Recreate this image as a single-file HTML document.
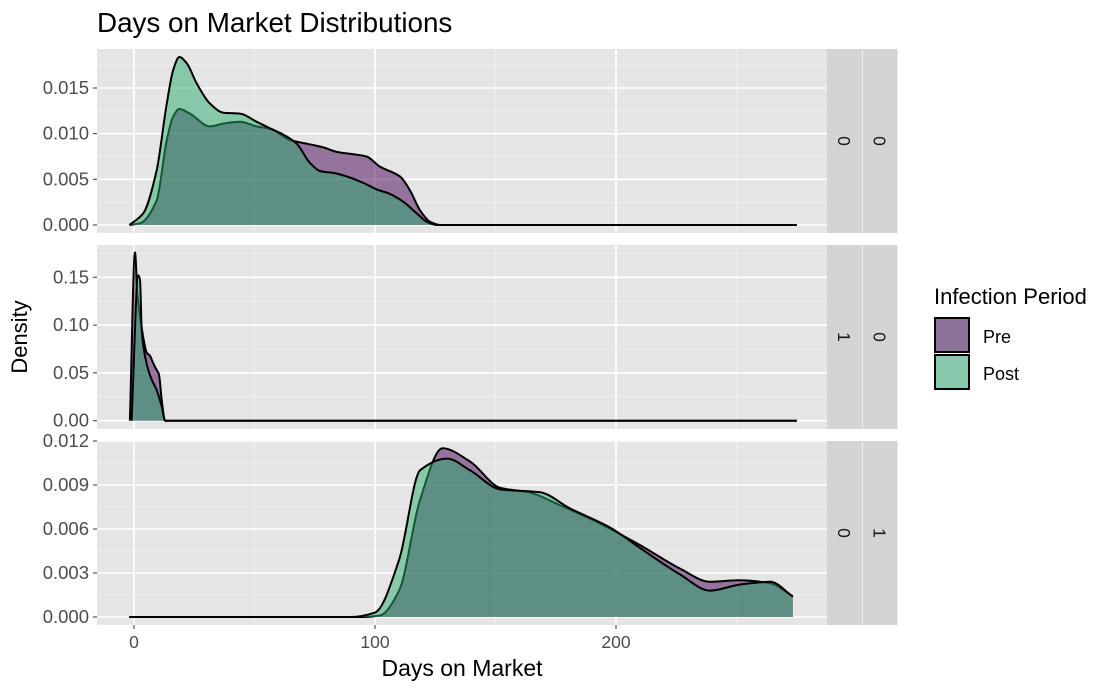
<!DOCTYPE html>
<html><head><meta charset="utf-8"><style>
body{margin:0;background:#fff}
svg text{font-family:"Liberation Sans",Arial,sans-serif}
</style></head><body>
<svg id="chart" width="1120" height="692" xmlns="http://www.w3.org/2000/svg">
<text x="97" y="32" font-size="27.8" fill="#000">Days on Market Distributions</text>
<text transform="translate(27,337) rotate(-90)" font-size="22" text-anchor="middle">Density</text>
<text x="462" y="676" font-size="23" text-anchor="middle">Days on Market</text>
<g>
<text x="934" y="304" font-size="22">Infection Period</text>
<rect x="935" y="318" width="34" height="34" fill="#8c7299" stroke="#000" stroke-width="2"/>
<text x="983" y="343" font-size="18">Pre</text>
<rect x="935" y="355" width="34" height="34" fill="#88c8ac" stroke="#000" stroke-width="2"/>
<text x="983" y="380" font-size="18">Post</text>
</g>
<g id="panels"></g>
</svg>
<script>
const xTicks=[0,100,200];
const strip1=["0","0"], strip2=["1","0"], strip3=["0","1"];
const p1Ticks=[0,0.005,0.010,0.015], p1Labels=["0.000","0.005","0.010","0.015"];
const p2Ticks=[0,0.05,0.10,0.15], p2Labels=["0.00","0.05","0.10","0.15"];
const p3Ticks=[0,0.003,0.006,0.009,0.012], p3Labels=["0.000","0.003","0.006","0.009","0.012"];
const p1PreX=[-1.9,2.5,9.4,13.6,16.3,18.8,23.2,31.5,37.1,44,50.9,57.1,64.7,71.7,78.6,84.1,92.4,96.5,102,110.4,114.5,118.7,122.8,127,140,275];
const p1PreY=[0,0.0002,0.0027,0.0093,0.0119,0.0127,0.0122,0.0108,0.0111,0.0113,0.0108,0.0105,0.0093,0.0089,0.0085,0.008,0.0077,0.0075,0.0064,0.0053,0.0038,0.0016,0.00036,0,0,0];
const p1PostX=[-1.9,3.9,9.4,13.6,16.3,18.8,21.9,26,31.5,37.1,44,50.9,57.1,62,67.5,73,77.2,82.7,89.6,95.2,100.7,106.2,111.7,117.3,121.4,125.6,140,275];
const p1PostY=[0,0.0013,0.006,0.0133,0.017,0.0184,0.0177,0.0155,0.0133,0.0123,0.0122,0.0113,0.0105,0.0099,0.0089,0.0068,0.0059,0.0057,0.0052,0.0046,0.0039,0.0034,0.00255,0.00128,0.00036,0,0,0];
const p2PreX=[-1.7,0.4,1.5,2.5,4,5.3,6.6,8,9.4,10.3,11.5,12.9,20,275];
const p2PreY=[0,0.176,0.13,0.11,0.085,0.071,0.068,0.06,0.053,0.049,0.022,0,0,0];
const p2PostX=[-1,1.8,2.5,3.2,4.6,7,9.4,11.5,12.9,20,275];
const p2PostY=[0,0.152,0.147,0.095,0.067,0.045,0.032,0.015,0,0,0];
const p3PreX=[-2,95,102,110,118.7,128,139.4,152,164,177,193,210,226.6,239,251,264,273.4];
const p3PreY=[0,0,0.0001,0.0018,0.008,0.0115,0.0106,0.0088,0.0085,0.0076,0.0064,0.0049,0.0033,0.0024,0.0025,0.0023,0.0014];
const p3PostX=[-2,90,100,110,118.7,130,139.4,152,168.5,181,197.5,210,226.6,239,251,264,273.4];
const p3PostY=[0,0,0.0003,0.0039,0.01,0.0108,0.01,0.0087,0.0085,0.0074,0.0061,0.0047,0.0029,0.0018,0.0022,0.0024,0.0014];

const NS="http://www.w3.org/2000/svg";
const root=document.getElementById('panels');
const X0=97,X1=827;
const xs=d=>134+d*2.41;
function mk(t,a,p){const e=document.createElementNS(NS,t);for(const k in a)e.setAttribute(k,a[k]);(p||root).appendChild(e);return e;}
const panels=[
 {top:49,bot:233,y0:225,scale:9133,ticks:p1Ticks,labels:p1Labels,step:0.005,max:0.019,strip:strip1,pre:[p1PreX,p1PreY],post:[p1PostX,p1PostY]},
 {top:245,bot:429,y0:420.7,scale:956,ticks:p2Ticks,labels:p2Labels,step:0.05,max:0.19,strip:strip2,pre:[p2PreX,p2PreY],post:[p2PostX,p2PostY]},
 {top:441,bot:625,y0:617,scale:14667,ticks:p3Ticks,labels:p3Labels,step:0.003,max:0.0125,strip:strip3,pre:[p3PreX,p3PreY],post:[p3PostX,p3PostY]}
];
function monoPath(pts){
 const n=pts.length,dx=[],m=[],t=[];
 for(let i=0;i<n-1;i++){dx[i]=pts[i+1][0]-pts[i][0];m[i]=(pts[i+1][1]-pts[i][1])/dx[i];}
 t[0]=m[0];t[n-1]=m[n-2];
 for(let i=1;i<n-1;i++){
  if(m[i-1]*m[i]<=0)t[i]=0;
  else{const w1=2*dx[i]+dx[i-1],w2=dx[i]+2*dx[i-1];t[i]=(w1+w2)/(w1/m[i-1]+w2/m[i]);}
 }
 let d="M"+pts[0][0].toFixed(1)+","+pts[0][1].toFixed(1);
 for(let i=0;i<n-1;i++){
  const h=dx[i]/3;
  d+=` C${(pts[i][0]+h).toFixed(1)},${(pts[i][1]+t[i]*h).toFixed(1)} ${(pts[i+1][0]-h).toFixed(1)},${(pts[i+1][1]-t[i+1]*h).toFixed(1)} ${pts[i+1][0].toFixed(1)},${pts[i+1][1].toFixed(1)}`;
 }
 return d;
}
panels.forEach((p,i)=>{
 const g=mk('g',{});
 
 
 const ys=v=>p.y0-v*p.scale;
 const bg=mk('rect',{x:X0,y:p.top,width:X1-X0,height:p.bot-p.top,fill:'#e5e5e5'},g);
 
 
 for(let v=p.step/2;v<p.max;v+=p.step){const y=ys(v);if(y>p.top&&y<p.bot){const l=mk('line',{x1:X0,x2:X1,y1:y,y2:y,stroke:'#f2f2f2','stroke-width':0.8},g);}}
 [50,150,250].forEach(v=>{const l=mk('line',{x1:xs(v),x2:xs(v),y1:p.top,y2:p.bot,stroke:'#f2f2f2','stroke-width':0.8},g);});
 p.ticks.forEach((v,k)=>{
  const y=ys(v);
  const l=mk('line',{x1:X0,x2:X1,y1:y,y2:y,stroke:'#fff','stroke-width':1.6},g);
  
  
  mk('line',{x1:X0-4,x2:X0,y1:y,y2:y,stroke:'#333','stroke-width':1},g);
  const t=mk('text',{x:X0-8,y:y+6,'font-size':18.5,'text-anchor':'end',fill:'#4d4d4d'},g);
  t.textContent=p.labels[k];
  
  
 });
 xTicks.forEach(v=>{const l=mk('line',{x1:xs(v),x2:xs(v),y1:p.top,y2:p.bot,stroke:'#fff','stroke-width':1.6},g);});
 [[p.pre,'rgba(68,1,84,0.5)','pre'],[p.post,'rgba(39,171,107,0.5)','post']].forEach(([s,col,nm])=>{
  const pts=s[0].map((x,k)=>[xs(x),ys(s[1][k])]);
  const line=monoPath(pts);
  const area=line+` L${pts[pts.length-1][0]},${ys(0)} L${pts[0][0]},${ys(0)} Z`;
  const a=mk('path',{d:area,fill:col,stroke:'none'},g);
  
  
  const ln=mk('path',{d:line,fill:'none',stroke:'#000','stroke-width':2,'stroke-linejoin':'round'},g);
  
  
 });
 p.strip.forEach((s,k)=>{
  const sx=827+k*35.5;
  const r=mk('rect',{x:sx,y:p.top,width:35,height:p.bot-p.top,fill:'#d4d4d4'},g);
  
  
  const cy=(p.top+p.bot)/2;
  const t=mk('text',{transform:`translate(${sx+11},${cy}) rotate(90)`,'font-size':17.5,'text-anchor':'middle',fill:'#1a1a1a'},g);
  t.textContent=s;
  
  
 });
});
xTicks.forEach(v=>{
 mk('line',{x1:xs(v),x2:xs(v),y1:625,y2:629,stroke:'#333','stroke-width':1});
 const t=mk('text',{x:xs(v),y:648,'font-size':17.5,'text-anchor':'middle',fill:'#4d4d4d'});
 t.textContent=v;
 
 
});
</script>
</body></html>
